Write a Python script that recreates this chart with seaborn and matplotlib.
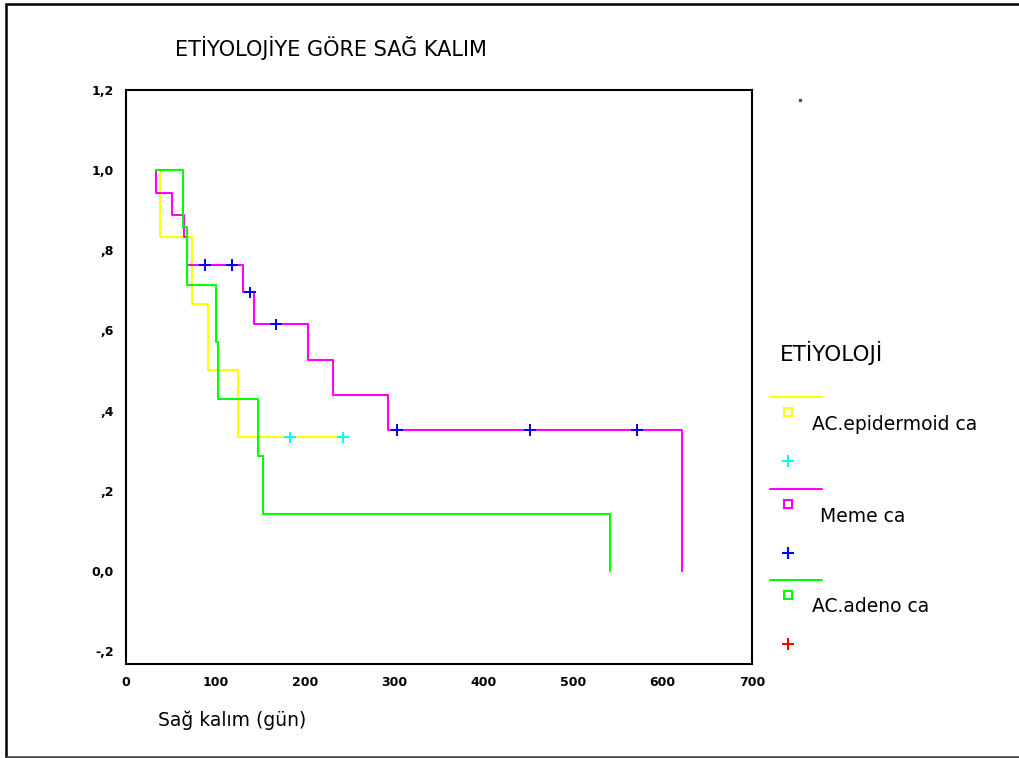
import numpy as np
import pandas as pd
import matplotlib
matplotlib.use("Agg")
import matplotlib.pyplot as plt
import seaborn as sns
from matplotlib.lines import Line2D
from matplotlib.patches import Rectangle

# Kaplan-Meier adımları (gün, sağ kalım oranı), steps-post
epid_t = [33.6, 38.0, 73.8, 91.7, 125.3, 242.7]
epid_s = [1.0, 0.833, 0.667, 0.5, 0.333, 0.333]
epid_cens_t = [183.4, 242.7]
epid_cens_s = [0.333, 0.333]

meme_t = [33.6, 33.6, 51.5, 64.9, 68.2, 130.9, 143.2, 203.6, 231.5, 293.1, 621.9, 621.9]
meme_s = [1.0, 0.944, 0.889, 0.833, 0.763, 0.695, 0.615, 0.527, 0.44, 0.352, 0.352, 0.0]
meme_cens_t = [88.4, 118.6, 138.7, 167.8, 303.1, 451.9, 571.6]
meme_cens_s = [0.763, 0.763, 0.695, 0.615, 0.352, 0.352, 0.352]

adeno_t = [33.6, 63.4, 67.9, 100.7, 102.9, 147.7, 153.2, 541.4]
adeno_s = [1.0, 0.857, 0.714, 0.571, 0.428, 0.286, 0.143, 0.0]

groups = ["AC.epidermoid ca", "Meme ca", "AC.adeno ca"]
line_colors = ["#FFFF00", "#FF00FF", "#00FF00"]
cens_colors = ["#00FFFF", "#0000FF", "#FF0000"]

yticks = [-0.2, 0.0, 0.2, 0.4, 0.6, 0.8, 1.0, 1.2]
ytick_labels = ["-,2", "0,0", ",2", ",4", ",6", ",8", "1,0", "1,2"]
xticks = [0, 100, 200, 300, 400, 500, 600, 700]

curves = pd.concat([
    pd.DataFrame({"gun": epid_t, "kalim": epid_s, "grup": groups[0]}),
    pd.DataFrame({"gun": meme_t, "kalim": meme_s, "grup": groups[1]}),
    pd.DataFrame({"gun": adeno_t, "kalim": adeno_s, "grup": groups[2]}),
], ignore_index=True)

cens = pd.concat([
    pd.DataFrame({"gun": epid_cens_t, "kalim": epid_cens_s, "grup": groups[0]}),
    pd.DataFrame({"gun": meme_cens_t, "kalim": meme_cens_s, "grup": groups[1]}),
], ignore_index=True)

sns.set_style("white")
plt.rcParams["font.family"] = ["DejaVu Sans"]
plt.rcParams["text.color"] = "black"
plt.rcParams["xtick.color"] = "black"
plt.rcParams["ytick.color"] = "black"

W, H = 1019, 758
fig = plt.figure(figsize=(W / 100, H / 100), dpi=100)
ax = fig.add_axes([126 / W, 1 - 664 / H, (752 - 126) / W, (664 - 90) / H])

sns.lineplot(data=curves, x="gun", y="kalim", hue="grup", palette=dict(zip(groups, line_colors)),
             estimator=None, sort=False, drawstyle="steps-post", linewidth=1.5, legend=False, ax=ax)

sns.scatterplot(data=cens, x="gun", y="kalim", hue="grup", palette=dict(zip(groups, cens_colors)),
                marker="+", s=70, linewidth=1.4, legend=False, ax=ax, zorder=5)

ax.set_xlim(0, 700)
ax.set_ylim(-0.2325, 1.2)
ax.set_xticks(xticks)
ax.set_xticklabels([str(v) for v in xticks], fontsize=9, fontweight="bold")
ax.set_yticks(yticks)
ax.set_yticklabels(ytick_labels, fontsize=9, fontweight="bold")
ax.tick_params(axis="both", direction="out", length=5, width=4, pad=4)
ax.set_xlabel("")
ax.set_ylabel("")
for sp in ax.spines.values():
    sp.set_color("black")
    sp.set_linewidth(1.5)

# üst katman: başlık, etiketler, lejant, çerçeve
ov = fig.add_axes([0, 0, 1, 1], facecolor="none")
ov.set_xlim(0, W)
ov.set_ylim(H, 0)
ov.axis("off")

ov.text(175, 48, "ETİYOLOJİYE GÖRE SAĞ KALIM", fontsize=15, va="center", ha="left")
ov.text(158, 720, "Sağ kalım (gün)", fontsize=13.5, va="center", ha="left")
ov.text(780, 353, "ETİYOLOJİ", fontsize=15.5, va="center", ha="left")

leg_y = [397, 489, 580]
leg_text_x = [812, 820, 812]
for i, g in enumerate(groups):
    y0 = leg_y[i]
    ov.add_line(Line2D([770, 822], [y0, y0], color=line_colors[i], linewidth=1.5))
    ov.add_patch(Rectangle((784, y0 + 11), 8, 8, fill=False, edgecolor=line_colors[i], linewidth=1.5))
    ov.text(leg_text_x[i], y0 + 27, g, fontsize=13.5, va="center", ha="left")
    ov.plot([788], [y0 + 64], marker="+", color=cens_colors[i], markersize=9, markeredgewidth=1.5)

ov.plot([800], [100], marker="s", color="#555555", markersize=1.5)
# dış çerçeve (sağ kenar yok)
ov.add_line(Line2D([6, 6], [4, 757], color="black", linewidth=1.8))
ov.add_line(Line2D([6, W], [4, 4], color="black", linewidth=1.8))
ov.add_line(Line2D([6, W], [756.5, 756.5], color="#404040", linewidth=1.8))

fig.savefig("out.png", dpi=100)
